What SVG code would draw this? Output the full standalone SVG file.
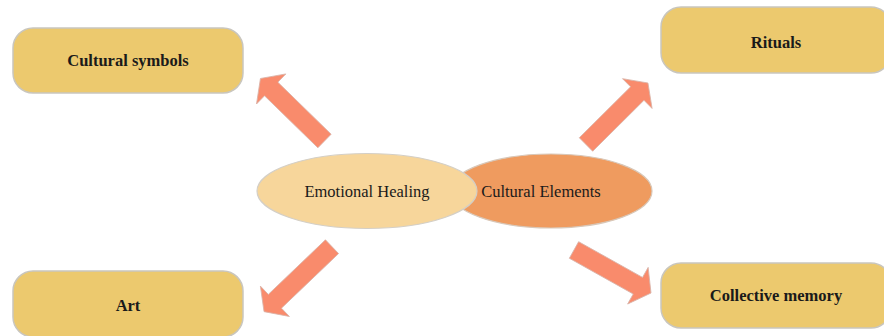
<svg xmlns="http://www.w3.org/2000/svg" width="884" height="336" viewBox="0 0 884 336">
  <style>
    .box { fill: #ECC96E; stroke: #C9C6BE; stroke-width: 1.5; }
    .btxt { font-family: "Liberation Serif", "Times New Roman", serif; font-weight: bold; font-size: 16.5px; fill: #1a1a1a; text-anchor: middle; }
    .etxt { font-family: "Liberation Serif", "Times New Roman", serif; font-size: 16.5px; fill: #1a1a1a; text-anchor: middle; }
    .arrow { fill: #F98B6C; stroke: #D9B3A8; stroke-width: 0.8; }
  </style>
  <rect width="884" height="336" fill="#FFFFFF"/>

  <g id="connectors">
    <path class="arrow" transform="translate(324.5,141) rotate(-135.7)" d="M0,-9.5 L74.5,-9.5 L74.5,-21 L89.5,0 L74.5,21 L74.5,9.5 L0,9.5 Z"/>
    <path class="arrow" transform="translate(586,144.5) rotate(-44.8)" d="M0,-9.5 L72.3,-9.5 L72.3,-21 L87.3,0 L72.3,21 L72.3,9.5 L0,9.5 Z"/>
    <path class="arrow" transform="translate(332,246.7) rotate(136.3)" d="M0,-9.5 L79,-9.5 L79,-21 L94,0 L79,21 L79,9.5 L0,9.5 Z"/>
    <path class="arrow" transform="translate(574,250) rotate(29.2)" d="M0,-9.5 L73.2,-9.5 L73.2,-21 L88.2,0 L73.2,21 L73.2,9.5 L0,9.5 Z"/>
  </g>

  <g id="cultural-elements">
    <ellipse cx="551" cy="191" rx="101" ry="37" fill="#EF9B5F" stroke="#D8C7B8" stroke-width="1.2"/>
    <text class="etxt" x="541" y="197">Cultural Elements</text>
  </g>
  <g id="emotional-healing">
    <ellipse cx="367" cy="191" rx="110" ry="37.5" fill="#F7D69B" stroke="#D4CFC6" stroke-width="1.2"/>
    <text class="etxt" x="367" y="197">Emotional Healing</text>
  </g>

  <g id="cultural-symbols">
    <rect class="box" x="13" y="28" width="230" height="65" rx="20"/>
    <text class="btxt" x="128" y="66">Cultural symbols</text>
  </g>
  <g id="rituals">
    <rect class="box" x="661" y="7" width="230" height="66" rx="20"/>
    <text class="btxt" x="776" y="48">Rituals</text>
  </g>
  <g id="art">
    <rect class="box" x="13" y="271" width="230" height="66" rx="20"/>
    <text class="btxt" x="128" y="311">Art</text>
  </g>
  <g id="collective-memory">
    <rect class="box" x="661" y="263" width="230" height="65" rx="20"/>
    <text class="btxt" x="776" y="301">Collective memory</text>
  </g>
</svg>
